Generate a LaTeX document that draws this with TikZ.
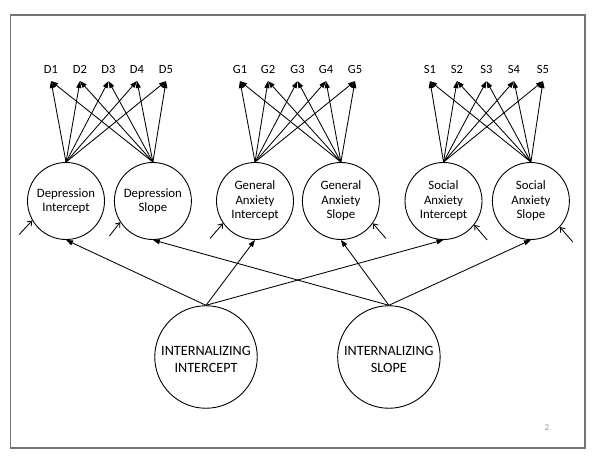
\documentclass[tikz,border=0pt]{standalone}
\usepackage{fontspec}
\setmainfont{Carlito}
\usepackage{tikz}
\usetikzlibrary{positioning}
\usetikzlibrary{calc}
\usetikzlibrary{arrows.meta}

\begin{document}
\begin{tikzpicture}[
	x=1pt, y=1pt,
	latent/.style={draw, circle, line width=0.9pt, minimum size=77pt, inner sep=0pt,
		align=center, font=\fontsize{12.8}{14.5}\selectfont},
	factor/.style={draw, circle, line width=0.9pt, minimum size=102.5pt, inner sep=0pt,
		align=center, font=\fontsize{14.2}{16.7}\selectfont},
	indicator/.style={anchor=base, inner sep=1pt, outer sep=6pt,
		font=\fontsize{12.5}{14}\selectfont},
	load/.style={line width=0.85pt, -{Triangle[length=7pt, width=5pt]}},
	resid/.style={line width=0.85pt, -{Straight Barb[length=4pt, width=6pt]}}
]
\useasboundingbox (0,0) rectangle (600,461);

% slide frame and page number
\draw[black!55, line width=1.1pt] (10.5,13) rectangle (585,446);
\node[text=black!40, font=\fontsize{9}{10}\selectfont] (page) at (547,33) {2};

% ---

\node[latent] (depInt) at (66,260) {Depression\\Intercept};
\node[latent, right=9pt of depInt] (depSlope) {Depression\\Slope};

\node[latent] (genInt) at (255,260) {General\\Anxiety\\Intercept};
\node[latent, right=8pt of genInt] (genSlope) {General\\Anxiety\\Slope};

\node[latent] (socInt) at (443.5,260) {Social\\Anxiety\\Intercept};
\node[latent, right=9.5pt of socInt] (socSlope) {Social\\Anxiety\\Slope};

\node[factor] (intInt) at (206,104) {\rule{0pt}{14pt}INTERNALIZING\\INTERCEPT};
\node[factor, right=79.5pt of intInt] (intSlope) {\rule{0pt}{14pt}INTERNALIZING\\SLOPE};

% ---

\node[indicator] (D1) at (51,387) {D1};
\node[indicator] (D2) at (80,387) {D2};
\node[indicator] (D3) at (108.5,387) {D3};
\node[indicator] (D4) at (137,387) {D4};
\node[indicator] (D5) at (166,387) {D5};

\node[indicator] (G1) at (240,387) {G1};
\node[indicator] (G2) at (268,387) {G2};
\node[indicator] (G3) at (297.5,387) {G3};
\node[indicator] (G4) at (326,387) {G4};
\node[indicator] (G5) at (355,387) {G5};

\node[indicator] (S1) at (430,387) {S1};
\node[indicator] (S2) at (457,387) {S2};
\node[indicator] (S3) at (486.5,387) {S3};
\node[indicator] (S4) at (514,387) {S4};
\node[indicator] (S5) at (543,387) {S5};

% ---

\foreach \i in {1,...,5} {
	\draw[load] (depInt.north) -- (D\i.south);
	\draw[load] (depSlope.north) -- (D\i.south);
	\draw[load] (genInt.north) -- (G\i.south);
	\draw[load] (genSlope.north) -- (G\i.south);
	\draw[load] (socInt.north) -- (S\i.south);
	\draw[load] (socSlope.north) -- (S\i.south);
}

% ---

\draw[load] (intInt.north) -- (depInt.south);
\draw[load] (intInt.north) -- (genInt.south);
\draw[load] (intInt.north) -- (socInt.south);

\draw[load] (intSlope.north) -- (depSlope.south);
\draw[load] (intSlope.north) -- (genSlope.south);
\draw[load] (intSlope.north) -- (socSlope.south);

% ---

\coordinate (eDepInt) at ($(depInt.210) + (-13,-14)$);
\coordinate (eDepSlope) at ($(depSlope.213) + (-11,-14)$);
\coordinate (eGenInt) at ($(genInt.215) + (-13,-15)$);
\coordinate (eGenSlope) at ($(genSlope.325) + (13,-15)$);
\coordinate (eSocInt) at ($(socInt.322) + (13,-15)$);
\coordinate (eSocSlope) at ($(socSlope.318) + (13,-15)$);

\draw[resid] (eDepInt) -- (depInt.210);
\draw[resid] (eDepSlope) -- (depSlope.213);
\draw[resid] (eGenInt) -- (genInt.215);
\draw[resid] (eGenSlope) -- (genSlope.325);
\draw[resid] (eSocInt) -- (socInt.322);
\draw[resid] (eSocSlope) -- (socSlope.318);

\end{tikzpicture}
\end{document}
